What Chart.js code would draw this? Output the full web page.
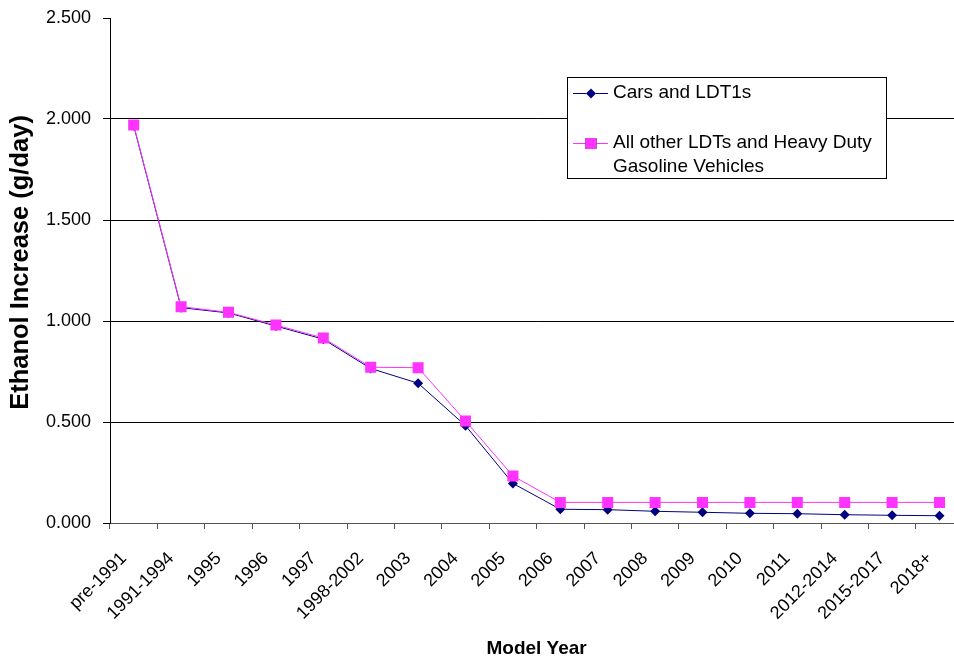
<!DOCTYPE html>
<html>
<head>
<meta charset="utf-8">
<title>Ethanol Increase by Model Year</title>
<script src="https://cdn.jsdelivr.net/npm/chart.js@4/dist/chart.umd.min.js"></script>
<style>
  html, body { margin: 0; padding: 0; background: #fff; overflow: hidden; }
  #wrap { position: relative; width: 971px; height: 658px; }
  #chart { display: block; }
</style>
</head>
<body>
<div id="wrap"><canvas id="chart" width="971" height="658"></canvas></div>
<script>
// Model-year groups on the category axis
const modelYears = ['pre-1991', '1991-1994', '1995', '1996', '1997', '1998-2002', '2003', '2004', '2005',
  '2006', '2007', '2008', '2009', '2010', '2011', '2012-2014', '2015-2017', '2018+'];

// Ethanol increase, g/day
const carsLdt1 = [1.967, 1.066, 1.040, 0.975, 0.910, 0.765, 0.692, 0.482, 0.196,
  0.068, 0.066, 0.058, 0.053, 0.048, 0.046, 0.041, 0.038, 0.036];
const otherLdtHdgv = [1.970, 1.071, 1.043, 0.980, 0.916, 0.771, 0.769, 0.505, 0.233,
  0.102, 0.102, 0.102, 0.102, 0.102, 0.102, 0.102, 0.102, 0.102];

const seriesNames = ['Cars and LDT1s', 'All other LDTs and Heavy Duty Gasoline Vehicles'];
const yTickValues = [0, 0.5, 1.0, 1.5, 2.0, 2.5];
const yTitle = 'Ethanol Increase (g/day)';

const FONT = "'Liberation Sans', Arial, Helvetica, sans-serif";

// Boxed legend drawn inside the plot area, upper right
const boxLegend = {
  id: 'boxLegend',
  afterDraw(chart) {
    const ctx = chart.ctx;
    const box = { l: 567.5, t: 77.5, r: 886.5, b: 178.5 };
    const textX = 613, lineL = 573, lineR = 608, markX = 591;
    const rows = [93, 143];
    const lh = 24;
    ctx.save();
    ctx.fillStyle = '#ffffff';
    ctx.fillRect(box.l, box.t, box.r - box.l, box.b - box.t);
    ctx.strokeStyle = '#000000';
    ctx.lineWidth = 1;
    ctx.strokeRect(box.l, box.t, box.r - box.l, box.b - box.t);
    ctx.font = '19px ' + FONT;
    ctx.textBaseline = 'middle';
    ctx.textAlign = 'left';
    const maxW = box.r - textX - 5;
    chart.data.datasets.forEach((ds, i) => {
      const y = rows[i];
      ctx.strokeStyle = ds.borderColor;
      ctx.lineWidth = 1;
      ctx.beginPath();
      ctx.moveTo(lineL, y + 0.5);
      ctx.lineTo(lineR, y + 0.5);
      ctx.stroke();
      Chart.helpers.drawPoint(ctx, {
        pointStyle: ds.pointStyle,
        radius: ds.pointRadius,
        borderWidth: 0
      }, markX, y + 0.5);
      ctx.fillStyle = ds.pointBackgroundColor;
      ctx.fill();
      // wrap the label into lines that fit the box
      const words = ds.label.split(' ');
      const lines = [];
      let cur = '';
      words.forEach(w => {
        const test = cur ? cur + ' ' + w : w;
        if (ctx.measureText(test).width > maxW && cur) { lines.push(cur); cur = w; }
        else cur = test;
      });
      if (cur) lines.push(cur);
      ctx.fillStyle = '#000000';
      lines.forEach((ln, k) => ctx.fillText(ln, textX, y + k * lh));
    });
    ctx.restore();
  }
};

// Vertical value-axis title, set a little above the axis midpoint
const valueAxisTitle = {
  id: 'valueAxisTitle',
  afterDraw(chart) {
    const ctx = chart.ctx;
    const area = chart.chartArea;
    ctx.save();
    ctx.translate(21, (area.top + area.bottom) / 2 - 8);
    ctx.rotate(-Math.PI / 2);
    ctx.font = 'bold 25.5px ' + FONT;
    ctx.fillStyle = '#000000';
    ctx.textAlign = 'center';
    ctx.textBaseline = 'middle';
    ctx.fillText(yTitle, 0, 0);
    ctx.restore();
  }
};

new Chart(document.getElementById('chart'), {
  type: 'line',
  data: {
    labels: modelYears,
    datasets: [
      {
        label: seriesNames[0],
        data: carsLdt1,
        borderColor: '#000080',
        backgroundColor: '#000080',
        pointBackgroundColor: '#000080',
        pointBorderColor: '#000080',
        pointBorderWidth: 0,
        borderWidth: 1,
        pointStyle: 'rectRot',
        pointRadius: 5,
        tension: 0,
        order: 1
      },
      {
        label: seriesNames[1],
        data: otherLdtHdgv,
        borderColor: '#ff33ff',
        backgroundColor: '#ff33ff',
        pointBackgroundColor: '#ff33ff',
        pointBorderColor: '#ff33ff',
        pointBorderWidth: 0,
        borderWidth: 1,
        pointStyle: 'rect',
        pointRadius: 7.8,
        tension: 0,
        order: 0
      }
    ]
  },
  options: {
    responsive: false,
    maintainAspectRatio: false,
    devicePixelRatio: 1,
    animation: false,
    layout: { padding: { top: 18, left: 0, right: 2, bottom: 0 } },
    plugins: {
      legend: { display: false },
      tooltip: { enabled: false }
    },
    scales: {
      x: {
        type: 'category',
        offset: true,
        grid: {
          offset: true,
          drawOnChartArea: false,
          drawTicks: true,
          tickLength: 6,
          tickColor: '#555555'
        },
        border: { color: '#555555', width: 1 },
        ticks: {
          autoSkip: false,
          minRotation: 45,
          maxRotation: 45,
          labelOffset: -10,
          padding: 19,
          color: '#000000',
          font: { family: FONT, size: 18 }
        },
        title: {
          display: true,
          text: 'Model Year',
          color: '#000000',
          font: { family: FONT, size: 19, weight: 'bold', lineHeight: 1 },
          padding: { top: 0, bottom: 0 }
        },
        afterFit(scale) {
          scale.height = 135;
          scale.paddingLeft = 0;
          scale.paddingRight = 0;
        }
      },
      y: {
        min: 0,
        max: 2.5,
        afterBuildTicks(scale) { scale.ticks = yTickValues.map(v => ({ value: v })); },
        grid: {
          color: ctx => (ctx.tick && ctx.tick.value >= 2.5 ? 'rgba(0,0,0,0)' : '#000000'),
          lineWidth: 1,
          drawTicks: true,
          tickLength: 7,
          tickColor: '#000000'
        },
        border: { color: '#000000', width: 1 },
        ticks: {
          padding: 12,
          color: '#000000',
          font: { family: FONT, size: 18 },
          callback: v => Number(v).toFixed(3)
        },
        title: { display: false },
        afterFit(scale) {
          scale.width = 110;
          scale.paddingTop = 0;
          scale.paddingBottom = 0;
        }
      }
    }
  },
  plugins: [boxLegend, valueAxisTitle]
});
</script>
</body>
</html>
